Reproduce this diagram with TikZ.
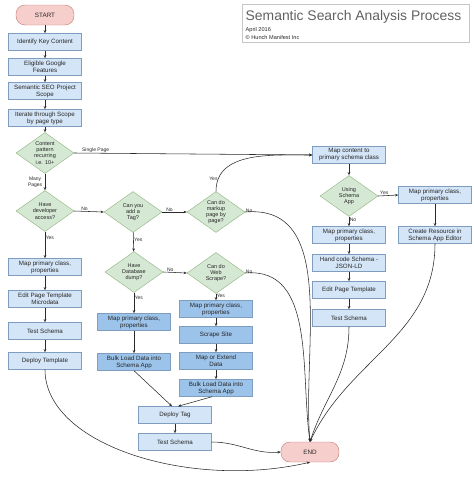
\documentclass[tikz,border=0pt]{standalone}
\usepackage{fontspec}
\setmainfont{Liberation Sans}
\usetikzlibrary{shapes.geometric,arrows.meta}
\definecolor{boxfill}{HTML}{D4E5F7}
\definecolor{boxdark}{HTML}{9CC3EA}
\definecolor{boxborder}{HTML}{7F9DBF}
\definecolor{diafill}{HTML}{D5E8D4}
\definecolor{diaborder}{HTML}{8DB37A}
\definecolor{pinkfill}{HTML}{F6CFCC}
\definecolor{pinkborder}{HTML}{C07A74}
\definecolor{linecol}{HTML}{2A2A2A}
\begin{document}
\begin{tikzpicture}[x=1pt,y=-1pt,
  every node/.style={text=black!85},
  box/.style={draw=boxborder, fill=boxfill, minimum width=73pt, minimum height=17pt, inner sep=1pt, align=center, font=\fontsize{6.2}{7}\selectfont},
  dbox/.style={box, fill=boxdark},
  term/.style={draw=pinkborder, fill=pinkfill, rounded corners=9pt, minimum width=58pt, minimum height=20pt, font=\fontsize{6.3}{7.5}\selectfont},
  dia/.style={diamond, draw=diaborder, fill=diafill, aspect=1.4, minimum width=58pt, minimum height=41pt, inner sep=0pt},
  dtext/.style={align=center, font=\fontsize{5.5}{6.2}\selectfont, inner sep=0pt},
  lbl/.style={font=\fontsize{5}{5.6}\selectfont, inner sep=0.5pt, align=center},
  conn/.style={draw=linecol, line width=0.55pt, -{Stealth[length=3.2pt,width=2.6pt]}}
]
\useasboundingbox (0,0) rectangle (474,477);

% title
\node[draw=black!22, line width=0.6pt, minimum width=227pt, minimum height=38pt, anchor=north west, inner sep=0pt] (titlebox) at (242,4) {};
\node[anchor=west, inner sep=0pt, text=black!62, font=\fontsize{13.9}{15}\selectfont] (title) at (245.5,17) {Semantic Search Analysis Process};
\node[anchor=west, inner sep=0pt, font=\fontsize{5.6}{6.4}\selectfont] (date) at (245.5,30) {April 2016};
\node[anchor=west, inner sep=0pt, font=\fontsize{5.6}{6.4}\selectfont] (copy) at (245.5,37) {© Hunch Manifest Inc};

% left column
\node[term] (start) at (45,15) {START};
\node[box] (ident) at (45,42) {Identify Key Content};
\node[box] (elig) at (45,67) {Eligible Google\\Features};
\node[box] (scope) at (45,91) {Semantic SEO Project\\Scope};
\node[box] (iter) at (45,118) {Iterate through Scope\\by page type};
\node[dia] (d1) at (45,153) {};
\node[dtext] (d1t) at (d1) {Content\\pattern\\recurring\\i.e. 10+};
\node[dia] (d2) at (45,211) {};
\node[dtext] (d2t) at (d2) {Have\\developer\\access?};
\node[box] (lmap) at (45,267) {Map primary class,\\properties};
\node[box] (ledit) at (45,299) {Edit Page Template\\Microdata};
\node[box] (ltest) at (45,331) {Test Schema};
\node[box] (ldeploy) at (45,361) {Deploy Template};

% middle
\node[dia] (d3) at (133,212) {};
\node[dtext] (d3t) at (d3) {Can you\\add a\\Tag?};
\node[dia] (d4) at (216,212) {};
\node[dtext] (d4t) at (d4) {Can do\\markup\\page by\\page?};
\node[dia] (d5) at (134,272) {};
\node[dtext] (d5t) at (d5) {Have\\Database\\dump?};
\node[dia] (d6) at (216,273) {};
\node[dtext] (d6t) at (d6) {Can do\\Web\\Scrape?};
\node[dbox] (mmap1) at (134,322) {Map primary class,\\properties};
\node[dbox] (bulk1) at (134,362) {Bulk Load Data into\\Schema App};
\node[dbox] (mmap2) at (216,309) {Map primary class,\\properties};
\node[dbox] (scrape) at (216,335) {Scrape Site};
\node[dbox] (extend) at (216,361) {Map or Extend\\Data};
\node[dbox] (bulk2) at (216,388) {Bulk Load Data into\\Schema App};
\node[box] (deploy) at (175,415) {Deploy Tag};
\node[box] (mtest) at (175,442) {Test Schema};
\node[term] (end) at (310,452) {END};

% right
\node[box] (rcontent) at (349,155) {Map content to\\primary schema class};
\node[dia] (d7) at (349,196) {};
\node[dtext] (d7t) at (d7) {Using\\Schema\\App};
\node[box] (rmapy) at (435,195) {Map primary class,\\properties};
\node[box] (rcreate) at (435,235) {Create Resource in\\Schema App Editor};
\node[box] (rmapn) at (349,235) {Map primary class,\\properties};
\node[box] (rhand) at (349,263) {Hand code Schema -\\JSON-LD};
\node[box] (redit) at (349,290) {Edit Page Template};
\node[box] (rtest) at (349,318) {Test Schema};

% connectors left
\draw[conn] (start) -- (ident);
\draw[conn] (ident) -- (elig);
\draw[conn] (elig) -- (scope);
\draw[conn] (scope) -- (iter);
\draw[conn] (iter) -- (d1);
\draw[conn] (d1) -- node[lbl, left, xshift=-2pt] (lmany) {Many\\Pages} (d2);
\draw[conn] (d1.east) -- node[lbl, pos=0.09, above] (lsingle) {Single Page} (rcontent.west);
\draw[conn] (d2) -- node[lbl, pos=0.22, right] (lyes1) {Yes} (lmap);
\draw[conn] (lmap) -- (ledit);
\draw[conn] (ledit) -- (ltest);
\draw[conn] (ltest) -- (ldeploy);
\draw[conn] (d2.east) -- node[lbl, pos=0.35, above] (lno1) {No} (d3.west);
\draw[conn] (d3.east) -- node[lbl, pos=0.3, above] (lno2) {No} (d4.west);
\draw[conn] (d4.north) to[out=90, in=180] node[lbl, pos=0.12, left] (lyes2) {Yes} (rcontent.west);
\draw[conn] (d3) -- node[lbl, pos=0.4, right] (lyes3) {Yes} (d5);
\draw[conn] (d5.east) -- node[lbl, pos=0.3, above] (lno3) {No} (d6.west);
\draw[conn] (d5) -- node[lbl, pos=0.25, right] (lyes4) {Yes} (mmap1);
\draw[conn] (mmap1) -- (bulk1);
\draw[conn] (d6) -- node[lbl, pos=0.3, right] (lyes5) {Yes} (mmap2);
\draw[conn] (mmap2) -- (scrape);
\draw[conn] (scrape) -- (extend);
\draw[conn] (extend) -- (bulk2);
\draw[conn] (bulk1.south) -- ([xshift=-3pt]deploy.north);
\draw[conn] ([xshift=-4pt]bulk2.south) -- ([xshift=3pt]deploy.north);
\draw[conn] (deploy) -- (mtest);
\draw[conn] (mtest.east) to[out=0, in=185] (end.west);

% to END
\draw[conn] (d4.east) node[lbl, above right, yshift=-1pt] (lno4) {No} to[out=5, in=95] (end.north);
\draw[conn] (d6.east) node[lbl, above right, yshift=-1pt] (lno5) {No} to[out=5, in=98] (end.north);
\draw[conn] (rcreate.south) to[out=-90, in=65] (end.north);
\draw[conn] (rtest.south) to[out=-90, in=72] (end.north);
\draw[conn] (ldeploy.south) .. controls (45,445) and (190,490) .. (end.south);

% right connectors
\draw[conn] (rcontent) -- (d7);
\draw[conn] (d7.east) -- node[lbl, pos=0.3, above] (lyes6) {Yes} (rmapy.west);
\draw[conn] (d7) -- node[lbl, pos=0.3, right] (lno6) {No} (rmapn);
\draw[conn] (rmapy) -- (rcreate);
\draw[conn] (rmapn) -- (rhand);
\draw[conn] (rhand) -- (redit);
\draw[conn] (redit) -- (rtest);
\end{tikzpicture}
\end{document}
